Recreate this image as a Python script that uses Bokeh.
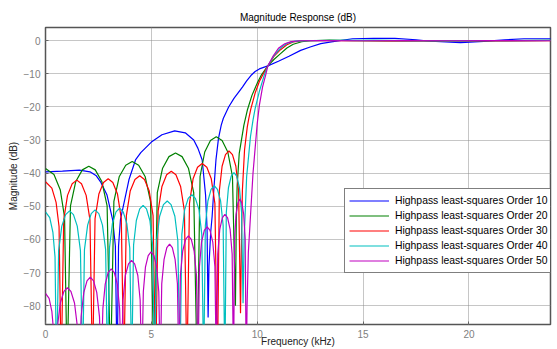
from bokeh.plotting import figure
from bokeh.models import Range1d, FixedTicker, Legend, LegendItem
from bokeh.embed import file_html
from bokeh.resources import INLINE

# ---- data (frequency in kHz, magnitude in dB) ----
freq_10 = [0, 0.8, 1.6, 2.1, 2.4, 2.6, 2.9, 3.17, 3.3, 3.38, 3.45, 3.54, 3.94, 4.25, 4.5, 5.0, 5.5,
           6.1, 6.6, 7.0, 7.2, 7.4, 7.56, 7.63, 7.68, 7.72, 7.8, 7.87, 7.95, 8.05, 8.17, 8.3, 8.4,
           8.65, 8.9, 9.3, 9.5, 9.7, 9.9, 10.1, 10.5, 11.0, 11.5, 12.05, 12.5, 13.0, 13.5, 14.5, 15.5,
           16.5, 17.5, 18.2, 19.6, 20.7, 21.7, 22.6, 24.0]
mag_10 = [-39.6, -39.4, -39.1, -39.6, -40.8, -42.6, -46.5, -54.0, -62.0, -100, -62.0, -54.0, -42.0,
          -36.0, -33.8, -30.6, -28.4, -27.2, -27.8, -30.0, -32.5, -36.0, -46.6, -56.6, -83.6, -68.0,
          -58.0, -53.0, -45.0, -36.0, -29.5, -25.5, -23.4, -20.0, -17.4, -14.0, -12.1, -10.5, -9.3,
          -8.5, -7.6, -6.2, -4.7, -2.9, -1.9, -0.85, -0.35, 0.6, 0.75, 0.7, 0.3, -0.15, -0.55, -0.2,
          0.3, 0.6, 0.6]

freq_20 = [0, 0.4, 0.7, 0.9, 1.02,
           1.18, 1.43, 1.74, 2.045, 2.35, 2.66, 2.91, 3.07,
           3.23, 3.48, 3.79, 4.095, 4.40, 4.71, 4.96, 5.12,
           5.28, 5.53, 5.83, 6.14, 6.45, 6.75, 7.0, 7.16,
           7.30, 7.52, 7.79, 8.065, 8.34, 8.61, 8.83, 8.97,
           9.01, 9.05, 9.15, 9.37, 9.53, 9.75, 10.0, 10.2, 10.5, 10.8, 11.1, 11.4, 11.7, 12.1,
           12.5, 13.4, 14.5, 16.0, 18.0, 20.0, 22.0, 24.0]
mag_20 = [-38.6, -40.4, -45.1, -53.3, -100,
          -49.9, -42.5, -39.0, -37.9, -39.0, -42.5, -49.9, -100,
          -48.5, -41.1, -37.6, -36.5, -37.6, -41.1, -48.5, -100,
          -45.9, -38.5, -35.0, -33.9, -35.0, -38.5, -45.9, -100,
          -41.0, -33.6, -30.1, -29.0, -30.1, -33.6, -41.0, -80.0,
          -55.0, -44.0, -34.0, -25.5, -21.0, -16.5, -12.8, -10.3, -7.6, -5.6, -3.9, -2.2, -1.06, -0.3,
          0.0, 0.2, 0.05, -0.05, 0.05, -0.05, 0.05, 0.1]

freq_30 = [0, 0.3, 0.5, 0.64, 0.74,
           0.86, 1.04, 1.26, 1.48, 1.70, 1.92, 2.10, 2.22,
           2.34, 2.52, 2.74, 2.96, 3.18, 3.40, 3.58, 3.70,
           3.82, 4.0, 4.225, 4.45, 4.675, 4.9, 5.08, 5.20,
           5.32, 5.50, 5.72, 5.94, 6.16, 6.38, 6.56, 6.68,
           6.80, 6.97, 7.18, 7.40, 7.62, 7.83, 8.0, 8.12,
           8.21, 8.34, 8.50, 8.665, 8.83, 8.99, 9.12, 9.21,
           9.26, 9.3, 9.4, 9.53, 9.6, 9.7, 9.9, 10.1, 10.27, 10.5, 10.8, 11.1, 11.4, 11.7, 12.2,
           13.0, 15.0, 17.0, 19.0, 21.0, 24.0]
mag_30 = [-42.6, -44.5, -48.8, -56.1, -100,
          -54.1, -46.7, -43.2, -42.1, -43.2, -46.7, -54.1, -100,
          -53.7, -46.3, -42.8, -41.7, -42.8, -46.3, -53.7, -100,
          -52.8, -45.4, -41.9, -40.8, -41.9, -45.4, -52.8, -100,
          -51.4, -44.0, -40.5, -39.4, -40.5, -44.0, -51.4, -100,
          -49.1, -41.7, -38.2, -37.1, -38.2, -41.7, -49.1, -100,
          -45.3, -37.9, -34.4, -33.3, -34.4, -37.9, -45.3, -82.3,
          -58.0, -45.0, -33.0, -26.0, -23.5, -20.5, -15.8, -12.3, -10.2, -7.6, -4.6, -2.7, -1.2, -0.35, 0.0,
          0.05, 0.05, -0.05, 0.05, -0.05, 0.05]

freq_40 = [0, 0.2, 0.35, 0.45, 0.52,
           0.62, 0.77, 0.95, 1.135, 1.32, 1.50, 1.65, 1.75,
           1.84, 1.99, 2.16, 2.34, 2.52, 2.69, 2.84, 2.93,
           3.02, 3.16, 3.33, 3.50, 3.67, 3.84, 3.98, 4.07,
           4.16, 4.29, 4.45, 4.61, 4.77, 4.93, 5.06, 5.15,
           5.25, 5.39, 5.57, 5.75, 5.93, 6.11, 6.25, 6.35,
           6.44, 6.57, 6.74, 6.91, 7.08, 7.25, 7.38, 7.47,
           7.55, 7.67, 7.82, 7.97, 8.12, 8.27, 8.39, 8.47,
           8.54, 8.64, 8.77, 8.90, 9.03, 9.16, 9.26, 9.33,
           9.38, 9.5, 9.68, 9.8, 9.9, 10.1, 10.35, 10.5, 10.8, 11.1, 11.4, 11.8,
           12.5, 14.0, 15.5, 17.0, 19.0, 21.0, 24.0]
mag_40 = [-51.7, -53.4, -57.9, -65.3, -100,
          -63.4, -56.0, -52.5, -51.4, -52.5, -56.0, -63.4, -100,
          -63.1, -55.7, -52.2, -51.1, -52.2, -55.7, -63.1, -100,
          -62.6, -55.2, -51.7, -50.6, -51.7, -55.2, -62.6, -100,
          -61.7, -54.3, -50.8, -49.7, -50.8, -54.3, -61.7, -100,
          -60.4, -53.0, -49.5, -48.4, -49.5, -53.0, -60.4, -100,
          -58.5, -51.1, -47.6, -46.5, -47.6, -51.1, -58.5, -100,
          -55.8, -48.4, -44.9, -43.8, -44.9, -48.4, -55.8, -100,
          -51.8, -44.4, -40.9, -39.8, -40.9, -44.4, -51.8, -79.3,
          -60.0, -41.0, -29.0, -24.0, -20.5, -15.3, -10.0, -7.6, -4.4, -2.2, -0.8, -0.1,
          0.05, 0.1, 0.2, 0.05, -0.05, 0.05, 0.1]

freq_50 = [0, 0.17, 0.3, 0.4, 0.47,
           0.56, 0.70, 0.87, 1.035, 1.20, 1.37, 1.51, 1.60,
           1.68, 1.81, 1.96, 2.115, 2.27, 2.42, 2.55, 2.63,
           2.71, 2.82, 2.96, 3.105, 3.25, 3.39, 3.50, 3.58,
           3.66, 3.77, 3.92, 4.065, 4.21, 4.36, 4.47, 4.55,
           4.62, 4.72, 4.85, 4.985, 5.12, 5.25, 5.35, 5.42,
           5.49, 5.60, 5.73, 5.86, 5.99, 6.12, 6.23, 6.30,
           6.37, 6.48, 6.615, 6.75, 6.885, 7.02, 7.13, 7.20,
           7.27, 7.37, 7.50, 7.635, 7.77, 7.90, 8.00, 8.07,
           8.135, 8.23, 8.35, 8.475, 8.60, 8.72, 8.815, 8.88,
           8.93, 9.00, 9.09, 9.18, 9.27, 9.36, 9.43, 9.48,
           9.52, 9.58, 9.68, 9.8, 9.92, 10.0, 10.1, 10.25, 10.4, 10.5, 10.75, 11.0, 11.3, 11.6, 12.0,
           13.0, 15.0, 17.0, 19.0, 21.0, 24.0]
mag_50 = [-76.3, -77.8, -81.7, -89.0, -100,
          -86.6, -79.2, -75.7, -74.6, -75.7, -79.2, -86.6, -100,
          -83.4, -76.0, -72.5, -71.4, -72.5, -76.0, -83.4, -100,
          -80.9, -73.5, -70.0, -68.9, -70.0, -73.5, -80.9, -100,
          -78.3, -70.9, -67.4, -66.3, -67.4, -70.9, -78.3, -100,
          -75.8, -68.4, -64.9, -63.8, -64.9, -68.4, -75.8, -100,
          -73.4, -66.0, -62.5, -61.4, -62.5, -66.0, -73.4, -100,
          -70.9, -63.5, -60.0, -58.9, -60.0, -63.5, -70.9, -100,
          -68.2, -60.8, -57.3, -56.2, -57.3, -60.8, -68.2, -100,
          -64.4, -57.0, -53.5, -52.4, -53.5, -57.0, -64.4, -100,
          -59.8, -52.4, -48.9, -47.8, -48.9, -52.4, -59.8, -100,
          -80.0, -64.0, -53.0, -40.0, -31.0, -25.0, -19.5, -14.0, -10.3, -7.6, -4.6, -2.3, -0.9, -0.25, 0.0,
          0.05, 0.0, 0.02, 0.0, 0.03, 0.0]

series_labels = ["Highpass least-squares Order 10", "Highpass least-squares Order 20",
                 "Highpass least-squares Order 30", "Highpass least-squares Order 40",
                 "Highpass least-squares Order 50"]
series_colors = ["#0000ff", "#008000", "#ff0000", "#00bfbf", "#bf00bf"]
x_ticks = [0, 5, 10, 15, 20]
y_ticks = [-80, -70, -60, -50, -40, -30, -20, -10, 0]

FONT = "Liberation Sans"

p = figure(width=557, height=349, output_backend="svg", toolbar_location=None,
           x_range=Range1d(0, 23.85), y_range=Range1d(-85.7, 4),
           min_border_left=45, min_border_right=7, min_border_top=27, min_border_bottom=25)

p.title.text = "Magnitude Response (dB)"
p.title.align = "center"
p.title.text_font = FONT
p.title.text_font_size = "10px"
p.title.text_font_style = "normal"
p.title.text_color = "#000000"
p.title.standoff = 10

p.outline_line_color = "#555555"
p.outline_line_width = 1.5
p.background_fill_color = "white"
p.border_fill_color = "white"

p.xaxis.ticker = FixedTicker(ticks=x_ticks)
p.yaxis.ticker = FixedTicker(ticks=y_ticks)
for ax in (p.xaxis, p.yaxis):
    ax.axis_line_color = None
    ax.major_tick_in = 3
    ax.major_tick_out = 0
    ax.major_tick_line_color = "#666666"
    ax.minor_tick_line_color = None
    ax.major_label_text_font = FONT
    ax.major_label_text_font_size = "10px"
    ax.major_label_text_color = "#808080"
    ax.axis_label_text_font = FONT
    ax.axis_label_text_font_size = "10px"
    ax.axis_label_text_font_style = "normal"
    ax.axis_label_text_color = "#222222"
p.xaxis.major_label_standoff = 5
p.yaxis.major_label_standoff = 5
p.xaxis.axis_label = "Frequency (kHz)"
p.xaxis.axis_label_standoff = -5
p.yaxis.axis_label = "Magnitude (dB)"
p.yaxis.axis_label_standoff = 2

p.xgrid.ticker = FixedTicker(ticks=x_ticks)
p.ygrid.ticker = FixedTicker(ticks=y_ticks)
for g in (p.xgrid, p.ygrid):
    g.grid_line_color = "#8c8c8c"
    g.grid_line_dash = "1 1"
    g.grid_line_width = 1

freqs = [freq_10, freq_20, freq_30, freq_40, freq_50]
mags = [mag_10, mag_20, mag_30, mag_40, mag_50]
items = []
for f, m, c, lab in zip(freqs, mags, series_colors, series_labels):
    r = p.line(f, m, line_color=c, line_width=1.2)
    items.append(LegendItem(label=lab, renderers=[r]))

legend = Legend(items=items, location=(299, 51), margin=0, padding=4, spacing=0,
                glyph_width=40, glyph_height=15, label_height=14, label_standoff=6,
                label_text_font=FONT, label_text_font_size="10.4px", label_text_color="#000000",
                border_line_color="#000000", border_line_width=1.5,
                background_fill_color="white", background_fill_alpha=1.0)
p.add_layout(legend)

open("out.html", "w").write(file_html(p, INLINE))
